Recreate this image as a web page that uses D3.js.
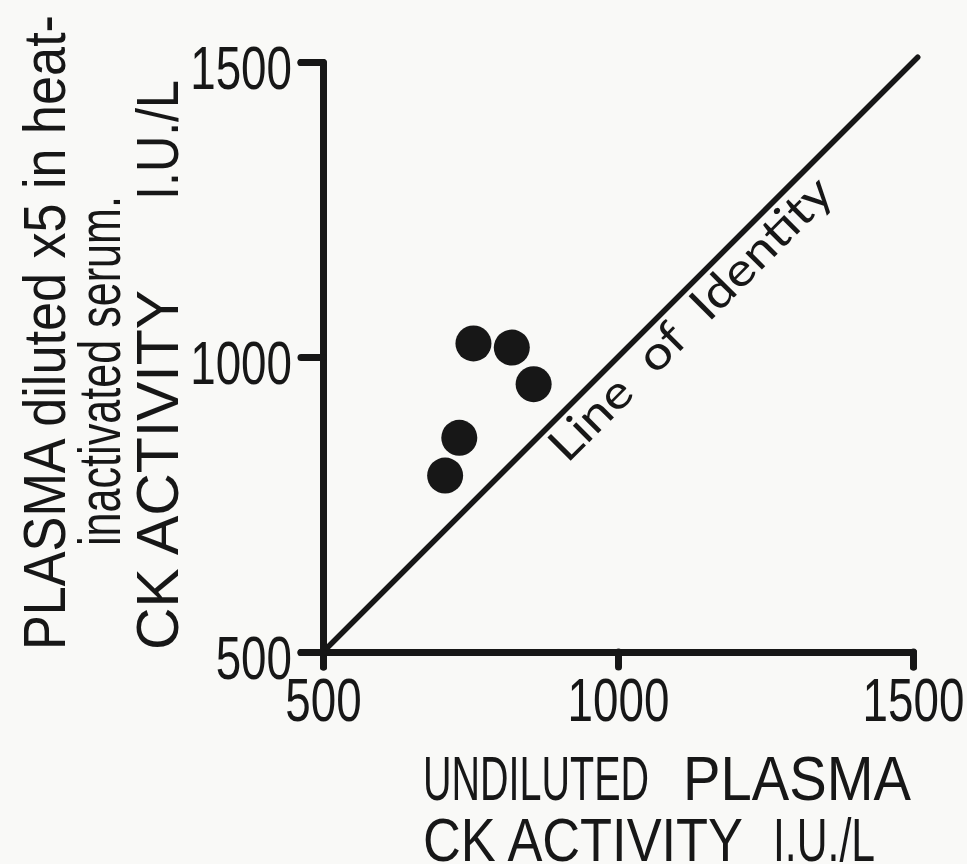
<!DOCTYPE html>
<html>
<head>
<meta charset="utf-8">
<script src="https://cdn.jsdelivr.net/npm/d3@7"></script>
<style>
  html, body { margin: 0; padding: 0; background: #f9f9f7; }
  svg { display: block; }
  .lbl { font-family: "Liberation Sans", Arial, sans-serif; fill: #171717; }
</style>
</head>
<body>
<svg id="chart" width="967" height="864"></svg>
<script>
// CK activity: undiluted plasma (x) vs plasma diluted x5 in heat-inactivated serum (y), I.U./L
const undiluted = [755, 820, 857, 731, 707];
const diluted   = [1023, 1016, 954, 863, 799];
const tickValues = [500, 1000, 1500];
const identityLabel = "Line of Identity";

const ink = "#171717";
const svg = d3.select("#chart");

// Condense a text element to a given drawn width (narrow lettering)
function fit(sel, len) {
  return sel.attr("textLength", len).attr("lengthAdjust", "spacingAndGlyphs");
}

// A single condensed label, optionally rotated about its anchor
function label(g, txt, px, py, size, len, angle = 0) {
  const t = g.append("text").attr("class", "lbl")
    .attr("font-size", size)
    .attr("transform", `translate(${px},${py})` + (angle ? ` rotate(${angle})` : ""))
    .text(txt);
  return fit(t, len);
}

const x = d3.scaleLinear().domain([500, 1500]).range([323, 913]);
const y = d3.scaleLinear().domain([500, 1500]).range([652, 62]);

// Line of identity (y = x)
svg.append("line")
  .attr("x1", x(500)).attr("y1", y(500))
  .attr("x2", x(1508)).attr("y2", y(1508))
  .attr("stroke", ink).attr("stroke-width", 5.5).attr("stroke-linecap", "round");

// Axes
const xAxis = d3.axisBottom(x).tickValues(tickValues).tickSize(15).tickSizeOuter(15).tickFormat(d3.format("d"));
const yAxis = d3.axisLeft(y).tickValues(tickValues).tickSize(22).tickSizeOuter(22).tickFormat(d3.format("d"));

const gx = svg.append("g").attr("transform", `translate(0,${y(500)})`).call(xAxis);
const gy = svg.append("g").attr("transform", `translate(${x(500)},0)`).call(yAxis);

[gx, gy].forEach(g => {
  g.attr("font-family", null).attr("font-size", null);
  g.select(".domain").attr("stroke", ink).attr("stroke-width", 7)
    .attr("stroke-linejoin", "round").attr("stroke-linecap", "round").attr("fill", "none");
  g.selectAll(".tick line").attr("stroke", ink).attr("stroke-width", 7).attr("stroke-linecap", "round");
  g.selectAll(".tick text").attr("class", "lbl").attr("font-size", 61).attr("fill", ink)
    .each(function () {
      fit(d3.select(this), this.getComputedTextLength() * 0.75);
    });
});
gx.selectAll(".tick text").attr("y", 69).attr("dy", 0);
gy.selectAll(".tick text").attr("x", -31).attr("dy", "0.44em");

// Data points
svg.append("g").selectAll("circle")
  .data(undiluted.map((u, i) => [u, diluted[i]]))
  .join("circle")
  .attr("cx", d => x(d[0])).attr("cy", d => y(d[1]))
  .attr("r", 18).attr("fill", ink);

// Identity label along the diagonal
const lp = [866, 866];
const idl = svg.append("text")
  .attr("transform", `translate(${x(lp[0])},${y(lp[1])}) rotate(-45)`)
  .attr("dy", 40)
  .attr("font-family", "Lato, 'Open Sans', sans-serif")
  .attr("font-size", 46)
  .attr("word-spacing", 12)
  .attr("fill", ink)
  .text(identityLabel);
fit(idl, 380);

// X axis title
const xt = svg.append("g");
label(xt, "UNDILUTED", 423, 800, 63, 226);
label(xt, "PLASMA", 683, 800, 63, 228);
label(xt, "CK ACTIVITY", 423, 861, 62, 320);
label(xt, "I.U./L", 773, 861, 62, 102);

// Y axis title (rotated, three lines)
const yt = svg.append("g");
label(yt, "PLASMA diluted x5 in heat-", 65, 650, 60, 635, -90);
label(yt, "inactivated serum.", 120, 546, 60, 350, -90);
label(yt, "CK ACTIVITY", 178, 650, 60, 360, -90);
label(yt, "I.U./L", 178, 200, 60, 120, -90);
</script>
</body>
</html>
